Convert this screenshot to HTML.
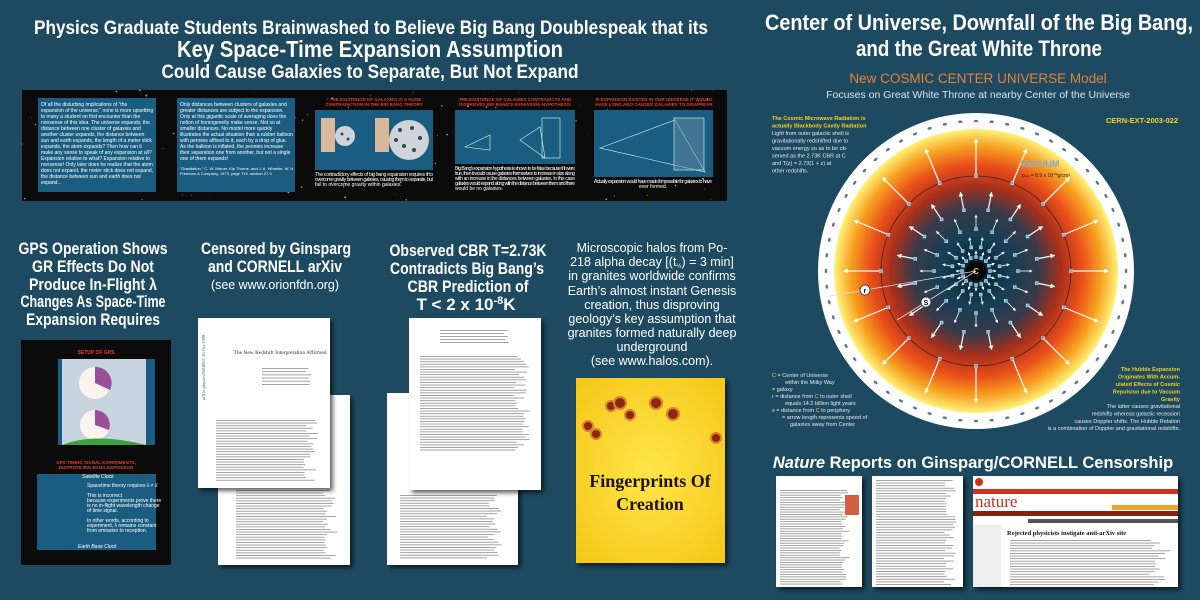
<!DOCTYPE html>
<html><head><meta charset="utf-8">
<style>
html,body{margin:0;padding:0;background:#1d4a60;}
svg{display:block}
.p{fill:#fff;font-size:5px}
</style></head><body>
<svg id="s" width="1200" height="600" viewBox="0 0 1200 600" xmlns="http://www.w3.org/2000/svg" font-family="Liberation Sans, sans-serif">
<defs>
<radialGradient id="rg" cx="976" cy="271" r="142" gradientUnits="userSpaceOnUse">
<stop offset="0" stop-color="#0a1c2a"/><stop offset="0.25" stop-color="#163f55"/>
<stop offset="0.45" stop-color="#3a3a48"/><stop offset="0.6" stop-color="#a8301c"/>
<stop offset="0.75" stop-color="#ea501a"/><stop offset="0.88" stop-color="#f7a020"/>
<stop offset="1" stop-color="#fff37a"/></radialGradient>
<radialGradient id="yg" cx="0.5" cy="0.5" r="0.7"><stop offset="0" stop-color="#ffe54a"/><stop offset="1" stop-color="#f5c716"/></radialGradient>
<filter id="sh"><feDropShadow dx="3" dy="3" stdDeviation="2" flood-color="#000" flood-opacity="0.6"/></filter>
<marker id="ah" viewBox="0 0 6 6" refX="5" refY="3" markerWidth="4" markerHeight="4" orient="auto"><path d="M0,0L6,3L0,6z" fill="#fff"/></marker>
</defs>
<rect width="1200" height="600" fill="#1d4a60"/>

<g font-weight="bold" fill="#fff" text-anchor="middle">
<text x="371" y="34" font-size="19" textLength="674" lengthAdjust="spacingAndGlyphs">Physics Graduate Students Brainwashed to Believe Big Bang Doublespeak that its</text>
<text x="370" y="57" font-size="23" textLength="386" lengthAdjust="spacingAndGlyphs">Key Space-Time Expansion Assumption</text>
<text x="370" y="78" font-size="19" textLength="417" lengthAdjust="spacingAndGlyphs">Could Cause Galaxies to Separate, But Not Expand</text>
</g>

<rect x="22" y="90" width="705" height="111" fill="#0b0b0b"/>
<g id="stars"></g>
<rect x="38" y="98" width="118" height="94" fill="#1b5d80"/>
<g class="p">
<text x="41" y="106">    Of all the disturbing implications of "the</text>
<text x="41" y="112">expansion of the universe," none is more upsetting</text>
<text x="41" y="118">to many a student on first encounter than the</text>
<text x="41" y="124">nonsense of this idea. The universe expands, the</text>
<text x="41" y="130">distance between one cluster of galaxies and</text>
<text x="41" y="136">another cluster expands, the distance between</text>
<text x="41" y="142">sun and earth expands, the length of a meter stick</text>
<text x="41" y="148">expands, the atom expands? Then how can it</text>
<text x="41" y="154">make any sense to speak of any expansion at all?</text>
<text x="41" y="160">Expansion relative to what? Expansion relative to</text>
<text x="41" y="166">nonsense! Only later does he realize that the atom</text>
<text x="41" y="172">does not expand, the meter stick does not expand,</text>
<text x="41" y="178">the distance between sun and earth does not</text>
<text x="41" y="184">expand...</text>
</g>
<rect x="177" y="98" width="118" height="94" fill="#1b5d80"/>
<g class="p">
<text x="180" y="106">   Only distances between clusters of galaxies and</text>
<text x="180" y="112">greater distances are subject to the expansion.</text>
<text x="180" y="118">Only at this gigantic scale of averaging does the</text>
<text x="180" y="124">notion of homogeneity make sense. Not so at</text>
<text x="180" y="130">smaller distances. No model more quickly</text>
<text x="180" y="136">illustrates the actual situation than a rubber balloon</text>
<text x="180" y="142">with pennies affixed to it, each by a drop of glue.</text>
<text x="180" y="148">As the balloon is inflated, the pennies increase</text>
<text x="180" y="154">their separation one from another, but not a single</text>
<text x="180" y="160">one of them expands!</text>
<text x="180" y="170" font-size="4">"Gravitation," C. W. Misner, Kip Thorne, and J. A. Wheeler. W. H.</text>
<text x="180" y="175" font-size="4">Freeman &amp; Company, 1973, page 719, section 27.3.</text>
</g>
<text x="374" y="101" font-size="4.5" fill="#e83a2a" font-weight="bold" text-anchor="middle">* THE EXISTENCE OF GALAXIES IS A HUGE</text>
<text x="374" y="106" font-size="4.5" fill="#e83a2a" font-weight="bold" text-anchor="middle">CONTRADICTION IN THE BIG BANG THEORY</text>
<rect x="315" y="110" width="118" height="60" fill="#1b5d80"/>
<rect x="321" y="118" width="14" height="34" fill="#d8b89a"/>
<circle cx="345" cy="136" r="10" fill="#cfd4da"/>
<rect x="375" y="118" width="14" height="34" fill="#d8b89a"/>
<circle cx="409" cy="140" r="20" fill="#d0d4d8"/>
<g fill="#2a4a5a"><circle cx="400" cy="130" r="2"/><circle cx="412" cy="128" r="2"/><circle cx="420" cy="138" r="2"/><circle cx="404" cy="146" r="2"/><circle cx="414" cy="150" r="2"/><circle cx="396" cy="140" r="2"/><circle cx="342" cy="134" r="1.5"/><circle cx="348" cy="139" r="1.5"/></g>
<g class="p" font-size="4"><text x="315" y="176" textLength="118">The contradictory effects of big bang expansion requires it to</text><text x="315" y="181" textLength="118">overcome gravity between galaxies, causing them to separate, but</text><text x="315" y="186">fail to overcome gravity within galaxies.</text></g>
<text x="515" y="101" font-size="4.5" fill="#e83a2a" font-weight="bold" text-anchor="middle">THE EXISTENCE OF GALAXIES CONTRADICTS AND</text>
<text x="515" y="106" font-size="4.5" fill="#e83a2a" font-weight="bold" text-anchor="middle">DISPROVES BIG BANG'S EXPANSION HYPOTHESIS</text>
<rect x="455" y="110" width="120" height="54" fill="#1b5d80"/>
<g stroke="#cfe" stroke-width="0.6" fill="none"><path d="M465,147 L490,135 L490,150z"/><path d="M520,140 L540,127 L545,158z"/><rect x="542" y="118" width="18" height="40"/></g>
<g class="p" font-size="4"><text x="455" y="170" textLength="120">Big Bang's expansion hypothesis is shown to be false because if it were</text><text x="455" y="175" textLength="120">true, then it would cause galaxies themselves to increase in size along</text><text x="455" y="180" textLength="120">with an increase in the distances between galaxies. In this case</text><text x="455" y="185" textLength="120">galaxies would expand along with the distance between them and there</text><text x="455" y="190">would be no galaxies.</text></g>
<text x="654" y="101" font-size="4.5" fill="#e83a2a" font-weight="bold" text-anchor="middle">IF EXPANSION EXISTED IN OUR UNIVERSE IT WOULD</text>
<text x="654" y="106" font-size="4.5" fill="#e83a2a" font-weight="bold" text-anchor="middle">HAVE LONG AGO CAUSED GALAXIES TO DISAPPEAR</text>
<rect x="594" y="110" width="119" height="67" fill="#1b5d80"/>
<g stroke="#cfe" stroke-width="0.6" fill="none"><path d="M600,148 L675,120 L705,172 z"/><rect x="674" y="118" width="30" height="52" fill="#6a8ea8" fill-opacity="0.5"/></g>
<g class="p" font-size="4"><text x="653" y="183" text-anchor="middle" textLength="118">Actually expansion would have made it impossible for galaxies to have</text><text x="653" y="188" text-anchor="middle">ever formed.</text></g>

<!-- GPS -->
<g font-size="17" fill="#fff" text-anchor="middle" font-weight="bold">
<text x="93" y="254" textLength="149" lengthAdjust="spacingAndGlyphs">GPS Operation Shows</text>
<text x="93" y="272" textLength="122" lengthAdjust="spacingAndGlyphs">GR Effects Do Not</text>
<text x="93" y="290" textLength="128" lengthAdjust="spacingAndGlyphs">Produce In-Flight λ</text>
<text x="93" y="307" textLength="145" lengthAdjust="spacingAndGlyphs">Changes As Space-Time</text>
<text x="93" y="325" textLength="134" lengthAdjust="spacingAndGlyphs">Expansion Requires</text>
</g>
<rect x="21" y="340" width="150" height="225" fill="#0b0b0b"/>
<text x="96" y="354" font-size="5" fill="#e83a2a" font-weight="bold" text-anchor="middle">SETUP OF GPS</text>
<rect x="58" y="359" width="97" height="86" fill="#1b5d80"/>
<rect x="62" y="359" width="84" height="86" fill="#c7d4e0"/>
<circle cx="95" cy="383" r="16" fill="#fbf3ee"/><path d="M95,383 V367 A16,16 0 0 1 110,390z" fill="#9a4f9a"/>
<circle cx="95" cy="425" r="15" fill="#fbf3ee"/><path d="M95,425 V410 A15,15 0 0 1 109,430z" fill="#9a4f9a"/>
<path d="M62,445 Q95,432 146,445z" fill="#3aa040"/>
<text x="96" y="464" font-size="4.5" fill="#e83a2a" font-weight="bold" text-anchor="middle">GPS TIMING SIGNAL EXPERIMENTS,</text>
<text x="96" y="469" font-size="4.5" fill="#e83a2a" font-weight="bold" text-anchor="middle">DISPROVE BIG BANG EXPANSION</text>
<rect x="37" y="474" width="119" height="76" fill="#1b5d80"/>
<g class="p" font-size="4.3"><text x="82" y="478" font-style="italic">Satellite Clock</text><text x="87" y="487">Spacetime theory requires λ ≠ λ'</text><text x="87" y="497">This is incorrect</text><text x="87" y="502">because experiments prove there</text><text x="87" y="507">is no in-flight wavelength change</text><text x="87" y="512">of time signal.</text><text x="87" y="522">In other words, according to</text><text x="87" y="527">experiment, λ remains constant</text><text x="87" y="532">from emission to reception.</text><text x="78" y="548" font-style="italic">Earth Base Clock</text></g>

<!-- Censored -->
<g font-size="17" fill="#fff" text-anchor="middle" font-weight="bold"><text x="276" y="254" textLength="150" lengthAdjust="spacingAndGlyphs">Censored by Ginsparg</text><text x="275" y="272" textLength="134" lengthAdjust="spacingAndGlyphs">and CORNELL arXiv</text></g>
<text x="275" y="289" font-size="13" fill="#fff" text-anchor="middle" textLength="128" lengthAdjust="spacingAndGlyphs">(see www.orionfdn.org)</text>
<rect x="218" y="395" width="132" height="170" fill="#fff" filter="url(#sh)"/>
<g id="back1"></g>
<rect x="198" y="318" width="132" height="170" fill="#fff" filter="url(#sh)"/>
<text x="280" y="354" font-size="5.5" style="font-family:'Liberation Serif',serif" text-anchor="middle" fill="#333">The New Redshift Interpretation Affirmed</text>
<text x="205" y="400" font-size="4.5" style="font-family:'Liberation Serif',serif" fill="#555" transform="rotate(-90 205 400)">arXiv:physics/9810051   26 Oct 1998</text>
<g id="front1"></g>
<!-- Observed -->
<g font-size="17" fill="#fff" text-anchor="middle" font-weight="bold"><text x="468" y="256" textLength="157" lengthAdjust="spacingAndGlyphs">Observed CBR T=2.73K</text><text x="467" y="274" textLength="154" lengthAdjust="spacingAndGlyphs">Contradicts Big Bang’s</text><text x="468" y="292" textLength="121" lengthAdjust="spacingAndGlyphs">CBR Prediction of</text><text x="466" y="310">T &lt; 2 x 10<tspan font-size="11" dy="-6">-8</tspan><tspan dy="6">K</tspan></text></g>
<rect x="387" y="393" width="131" height="172" fill="#fff" filter="url(#sh)"/>
<g id="back2"></g>
<rect x="409" y="318" width="132" height="172" fill="#fff" filter="url(#sh)"/>
<g id="front2"></g>

<!-- Microscopic -->
<g font-size="12.5" fill="#fff" text-anchor="middle">
<text x="652" y="252">Microscopic halos from Po-</text>
<text x="652" y="266">218 alpha decay [(t<tspan font-size="6" dy="2">½</tspan><tspan dy="-2">) = 3 min]</tspan></text>
<text x="652" y="280">in granites worldwide confirms</text>
<text x="652" y="295">Earth’s almost instant Genesis</text>
<text x="652" y="309">creation, thus disproving</text>
<text x="652" y="323">geology’s key assumption that</text>
<text x="652" y="337">granites formed naturally deep</text>
<text x="652" y="351">underground</text>
<text x="652" y="365">(see www.halos.com).</text></g>
<rect x="576" y="378" width="149" height="185" fill="url(#yg)" filter="url(#sh)"/>
<g fill="#8a2a10" stroke="#e08030" stroke-width="2"><circle cx="611" cy="406" r="5"/><circle cx="620" cy="403" r="6"/><circle cx="630" cy="415" r="5"/><circle cx="656" cy="403" r="6"/><circle cx="673" cy="414" r="6"/><circle cx="588" cy="426" r="5"/><circle cx="596" cy="434" r="5"/><circle cx="716" cy="438" r="5"/></g>
<text x="650" y="487" font-size="18" style="font-family:'Liberation Serif',serif" font-weight="bold" fill="#1a1208" text-anchor="middle">Fingerprints Of</text>
<text x="650" y="510" font-size="18" style="font-family:'Liberation Serif',serif" font-weight="bold" fill="#1a1208" text-anchor="middle">Creation</text>

<!-- right title -->
<text x="979" y="30" font-size="22" font-weight="bold" fill="#fff" text-anchor="middle" textLength="428" lengthAdjust="spacingAndGlyphs">Center of Universe, Downfall of the Big Bang,</text>
<text x="979" y="56" font-size="22" font-weight="bold" fill="#fff" text-anchor="middle" textLength="246" lengthAdjust="spacingAndGlyphs">and the Great White Throne</text>
<text x="978" y="83" font-size="13.5" fill="#e8803a" text-anchor="middle">New COSMIC CENTER UNIVERSE Model</text>
<text x="978" y="98" font-size="10.5" fill="#d8e2ea" text-anchor="middle">Focuses on Great White Throne at nearby Center of the Universe</text>

<circle cx="976" cy="271" r="158" fill="#fff"/>
<circle cx="976" cy="271" r="142" fill="url(#rg)"/>
<circle cx="976" cy="271" r="95" fill="none" stroke="#5a1a10" stroke-width="0.8"/>
<g id="ring"></g><g id="arr"></g>
<circle cx="976" cy="271" r="10" fill="#000"/>
<text x="976" y="274" font-size="8" font-weight="bold" fill="#f5d020" text-anchor="middle">C</text>
<line x1="976" y1="271" x2="830" y2="296" stroke="#ddd" stroke-width="0.8"/>
<line x1="976" y1="271" x2="897" y2="320" stroke="#ddd" stroke-width="0.8"/>
<circle cx="865" cy="290" r="5" fill="#fff" stroke="#333" stroke-width="0.8"/><text x="865" y="293" font-size="7" font-weight="bold" text-anchor="middle">r</text>
<circle cx="926" cy="302" r="5" fill="#fff" stroke="#333" stroke-width="0.8"/><text x="926" y="305" font-size="7" font-weight="bold" text-anchor="middle">S</text>
<text x="1040" y="167" font-size="9" font-weight="bold" fill="#7a9ab0" stroke="#b7c9d6" stroke-width="0.3" text-anchor="middle">VACUUM</text>
<text x="1022" y="177" font-size="5" fill="#222">ρ<tspan font-size="3">vac</tspan> = 8.9 x 10<tspan font-size="3" dy="-2">-30</tspan><tspan dy="2">g/cm³</tspan></text>

<g font-size="5.5" fill="#f5d020" font-weight="bold"><text x="772" y="120">The Cosmic Microwave Radiation is</text><text x="772" y="127.5">actually Blackbody Cavity Radiation</text></g>
<g font-size="5.5" fill="#e4eaef"><text x="772" y="135">Light from outer galactic shell is</text><text x="772" y="142.5">gravitationally redshifted due to</text><text x="772" y="150">vacuum energy so as to be ob-</text><text x="772" y="157.5">served as the 2.73K CBR at C</text><text x="772" y="165">and T(z) = 2.73(1 + z) at</text><text x="772" y="172.5">other redshifts.</text></g>
<text x="1178" y="123" font-size="7.5" fill="#f5d020" font-weight="bold" text-anchor="end">CERN-EXT-2003-022</text>
<g font-size="5.5" fill="#e4eaef"><text x="772" y="377"><tspan fill="#f5d020">C</tspan>  = Center of Universe</text><text x="785" y="384">within the Milky Way</text><text x="772" y="391">  = galaxy</text><text x="772" y="398">r   = distance from <tspan fill="#f5d020">C</tspan> to outer shell</text><text x="785" y="405">equals 14.2 billion light years</text><text x="772" y="412">s   = distance from <tspan fill="#f5d020">C</tspan> to periphery</text><text x="782" y="419">= arrow length represents speed of</text><text x="790" y="426">galaxies away from Center</text></g>
<g font-size="5.5" fill="#f5d020" font-weight="bold" text-anchor="end"><text x="1180" y="371">The Hubble Expansion</text><text x="1180" y="378.5">Originates With Accum-</text><text x="1180" y="386">ulated Effects of Cosmic</text><text x="1180" y="393.5">Repulsion due to Vacuum</text><text x="1180" y="401">Gravity</text></g>
<g font-size="5.5" fill="#e4eaef" text-anchor="end"><text x="1180" y="408">The latter causes gravitational</text><text x="1180" y="415.5">redshifts whereas galactic recession</text><text x="1180" y="423">causes Doppler shifts. The Hubble Relation</text><text x="1180" y="430">is a combination of Doppler and gravitational redshifts.</text></g>

<text x="973" y="468" font-size="16.5" font-weight="bold" fill="#fff" text-anchor="middle"><tspan font-style="italic">Nature</tspan> Reports on Ginsparg/CORNELL Censorship</text>
<rect x="776" y="476" width="86" height="111" fill="#fff" filter="url(#sh)"/>
<rect x="872" y="476" width="91" height="111" fill="#fff" filter="url(#sh)"/>
<rect x="973" y="476" width="205" height="111" fill="#fff" filter="url(#sh)"/>
<rect x="973" y="489" width="205" height="5" fill="#c8321e"/>
<circle cx="979" cy="482" r="4" fill="#c8321e"/>
<text x="975" y="507" font-size="17" style="font-family:'Liberation Serif',serif" fill="#c8321e">nature</text>
<rect x="973" y="511" width="205" height="5" fill="#8a2010"/>
<rect x="1112" y="505" width="66" height="5" fill="#f0a030"/>
<rect x="1028" y="519" width="150" height="4" fill="#555"/>
<rect x="973" y="525" width="28" height="62" fill="#eee"/>
<text x="1007" y="535" font-size="6.5" font-weight="bold" style="font-family:'Liberation Serif',serif" fill="#111">Rejected physicists instigate anti-arXiv site</text>
<g id="lines2"></g>
</svg>
<script>
var NS="http://www.w3.org/2000/svg";
function el(p,t,a){var e=document.createElementNS(NS,t);for(var k in a)e.setAttribute(k,a[k]);p.appendChild(e);return e;}
var seed=7;function r(){seed=(seed*9301+49297)%233280;return seed/233280;}
var st=document.getElementById('stars');
for(var i=0;i<160;i++){el(st,'circle',{cx:22+r()*705,cy:90+r()*111,r:r()*0.8+0.2,fill:r()>0.7?'#d9a040':'#aaa'});}
for(var i=0;i<80;i++){el(st,'circle',{cx:21+r()*150,cy:340+r()*225,r:r()*0.7+0.2,fill:r()>0.7?'#d9a040':'#999'});}
function lines(g,x,y0,w,y1,step){for(var y=y0;y<y1;y+=step)el(g,'rect',{x:x,y:y,width:w*(0.85+r()*0.15),height:0.9,fill:'#999'});}
lines(document.getElementById('back1'),236,490,102,560,2.6);
var f1=document.getElementById('front1');
lines(f1,262,368,50,384,3.2);lines(f1,216,420,102,480,2.6);
lines(document.getElementById('back2'),400,495,102,560,2.6);
var f2=document.getElementById('front2');
lines(f2,440,330,70,345,3);lines(f2,420,356,110,450,2.6);
var l2=document.getElementById('lines2');
lines(l2,780,490,70,585,2.4);lines(l2,876,480,80,585,2.6);lines(l2,1010,540,162,585,2.6);
el(l2,'rect',{x:845,y:495,width:14,height:20,fill:'#d06040'});
var ring=document.getElementById('ring'),cx=976,cy=271;
for(var i=0;i<60;i++){var a=i/60*2*Math.PI;var x=cx+150*Math.cos(a),y=cy+150*Math.sin(a);el(ring,'ellipse',{cx:x,cy:y,rx:2.2,ry:1.3,fill:'#5a7a90',transform:'rotate('+(a*180/Math.PI+90)+' '+x+' '+y+')'});}
var ar=document.getElementById('arr');
var rings=[[14,20,0],[24,34,11.25],[42,56,0],[62,80,11.25],[95,132,0]];
rings.forEach(function(q){for(var k=0;k<16;k++){var a=(k*22.5+q[2])*Math.PI/180;var x1=cx+q[0]*Math.cos(a),y1=cy+q[0]*Math.sin(a),x2=cx+q[1]*Math.cos(a),y2=cy+q[1]*Math.sin(a);
el(ar,'line',{x1:x1+2*Math.cos(a),y1:y1+2*Math.sin(a),x2:x2,y2:y2,stroke:'#fff','stroke-width':q[0]>50?1.2:0.8,'marker-end':'url(#ah)'});
el(ar,'rect',{x:x1-1.5,y:y1-1.5,width:3,height:3,fill:'#5bb8e0',stroke:'#fff','stroke-width':0.4});}});
</script>
</body></html>
